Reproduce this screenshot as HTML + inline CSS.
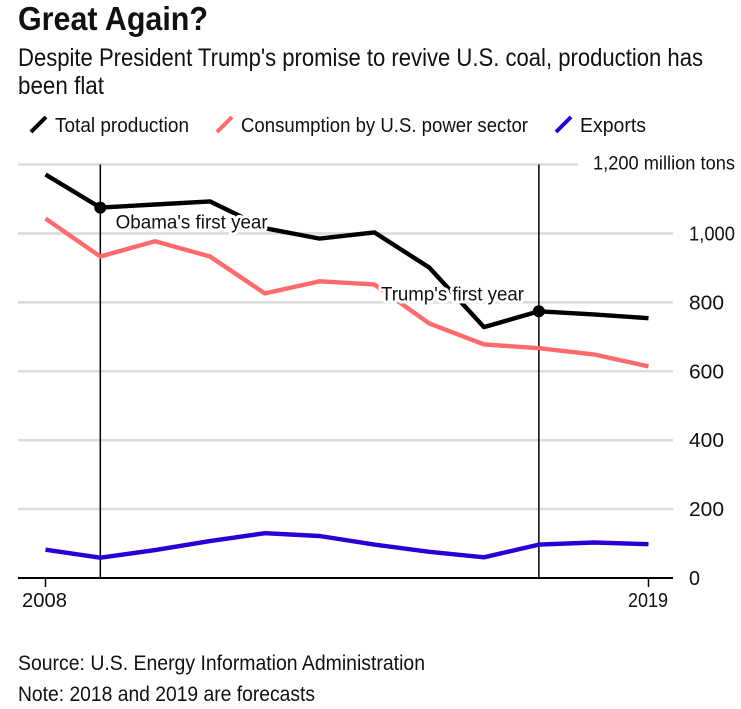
<!DOCTYPE html>
<html>
<head>
<meta charset="utf-8">
<title>Great Again?</title>
<style>
html,body{margin:0;padding:0;background:#fff;width:741px;height:709px;overflow:hidden}
svg{display:block}
text{font-family:"Liberation Sans",sans-serif;fill:#111}
</style>
</head>
<body>
<svg id="chart" width="741" height="709" viewBox="0 0 741 709" xmlns="http://www.w3.org/2000/svg">
  <text x="18" y="30" font-size="33" font-weight="bold" textLength="190" lengthAdjust="spacingAndGlyphs">Great Again?</text>
  <text x="18" y="66" font-size="25" textLength="685" lengthAdjust="spacingAndGlyphs">Despite President Trump's promise to revive U.S. coal, production has</text>
  <text x="18" y="94" font-size="25" textLength="86" lengthAdjust="spacingAndGlyphs">been flat</text>

  <g>
    <line x1="31" y1="132" x2="46" y2="117" stroke="#000" stroke-width="4"/>
    <text x="55" y="132" font-size="20" textLength="134" lengthAdjust="spacingAndGlyphs">Total production</text>
    <line x1="217" y1="132" x2="232" y2="117" stroke="#ff6a6a" stroke-width="4"/>
    <text x="241" y="132" font-size="20" textLength="287" lengthAdjust="spacingAndGlyphs">Consumption by U.S. power sector</text>
    <line x1="556" y1="132" x2="571" y2="117" stroke="#2800d7" stroke-width="4"/>
    <text x="580" y="132" font-size="20" textLength="66" lengthAdjust="spacingAndGlyphs">Exports</text>
  </g>

  <g id="grid"></g>
  <g id="markers"></g>
  <g id="series"></g>
  <g id="dots"></g>
  <g id="annotations"></g>
  <g id="axes"></g>

  <text x="18" y="670" font-size="21" textLength="407" lengthAdjust="spacingAndGlyphs">Source: U.S. Energy Information Administration</text>
  <text x="18" y="701" font-size="21" textLength="297" lengthAdjust="spacingAndGlyphs">Note: 2018 and 2019 are forecasts</text>
</svg>
<script>
const years = [2008,2009,2010,2011,2012,2013,2014,2015,2016,2017,2018,2019];
const totalProduction = [1171,1075,1084,1093,1015,985,1003,901,728,774,765,754];
const powerConsumption = [1043,933,977,933,826,861,852,739,678,667,649,614];
const exportsTons = [82,59,81,107,130,122,97,76,60,97,103,98];
const yTicks = [0,200,400,600,800,1000,1200];
const yTickLabels = ['0','200','400','600','800','1,000','1,200 million tons'];
const xTickYears = [2008,2019];
const events = [
  {year:2009, label:"Obama's first year", labelYear:2009.28, labelValue:1014},
  {year:2017, label:"Trump's first year", labelYear:2014.12, labelValue:806}
];

const NS = 'http://www.w3.org/2000/svg';
const X = y => 45.5 + (y - 2008) * (648.5 - 45.5) / 11;
const Y = v => 578 - v * (578 - 164.5) / 1200;
function mk(parent, tag, attrs, text){
  const el = document.createElementNS(NS, tag);
  for (const k in attrs) el.setAttribute(k, attrs[k]);
  if (text !== undefined) el.textContent = text;
  document.getElementById(parent).appendChild(el);
  return el;
}

yTicks.forEach((t, i) => {
  if (t > 0) {
    const g = mk('grid', 'line', {x1:18, x2: t === 1200 ? 578 : 673, y1:Y(t), y2:Y(t), stroke:'#dcdcdc', 'stroke-width':2.6});
    
    
  }
  const lx = t === 1200 ? 593 : 689;
  const ly = t === 1200 ? Y(t) + 5 : Y(t) + 7;
  const lab = mk('axes', 'text', {x:lx, y:ly, 'font-size':t === 1200 ? 19 : 20}, yTickLabels[i]);
  lab.setAttribute('lengthAdjust', 'spacingAndGlyphs');
  lab.setAttribute('textLength', t === 1200 ? 142 : t === 1000 ? 46 : t === 0 ? 11 : 35);
  
  
});

events.forEach(e => {
  const l = mk('markers', 'line', {x1:X(e.year), x2:X(e.year), y1:Y(1200), y2:Y(0), stroke:'#000', 'stroke-width':1.5});
  
  
});

const seriesList = [
  ['total-production-line', totalProduction, '#000'],
  ['consumption-line', powerConsumption, '#ff6a6a'],
  ['exports-line', exportsTons, '#2800d7']
];
seriesList.forEach(s => {
  const pts = s[1].map((v, i) => X(years[i]).toFixed(1) + ',' + Y(v).toFixed(1)).join(' ');
  const p = mk('series', 'polyline', {points:pts, fill:'none', stroke:s[2], 'stroke-width':4.4, 'stroke-linejoin':'round'});
  
  
});

events.forEach(e => {
  const v = totalProduction[years.indexOf(e.year)];
  const d = mk('dots', 'circle', {cx:X(e.year), cy:Y(v), r:6, fill:'#000'});
  
  
  const t = mk('annotations', 'text', {x:X(e.labelYear), y:Y(e.labelValue), 'font-size':19, stroke:'#fff', 'stroke-width':6, 'paint-order':'stroke', 'stroke-linejoin':'round', textLength:e.year === 2009 ? 152 : 143, lengthAdjust:'spacingAndGlyphs'}, e.label);
  
  
});

const axis = mk('axes', 'line', {x1:18, x2:673, y1:Y(0), y2:Y(0), stroke:'#000', 'stroke-width':2});


xTickYears.forEach(y => {
  const tick = mk('axes', 'line', {x1:X(y), x2:X(y), y1:Y(0), y2:Y(0) + 9, stroke:'#000', 'stroke-width':1.5});
  
  
  const lab = mk('axes', 'text', {x:y === 2008 ? 22 : 628, y:607, 'font-size':20, textLength:y === 2008 ? 45 : 40, lengthAdjust:'spacingAndGlyphs'}, String(y));
  
  
});
</script>
</body>
</html>
